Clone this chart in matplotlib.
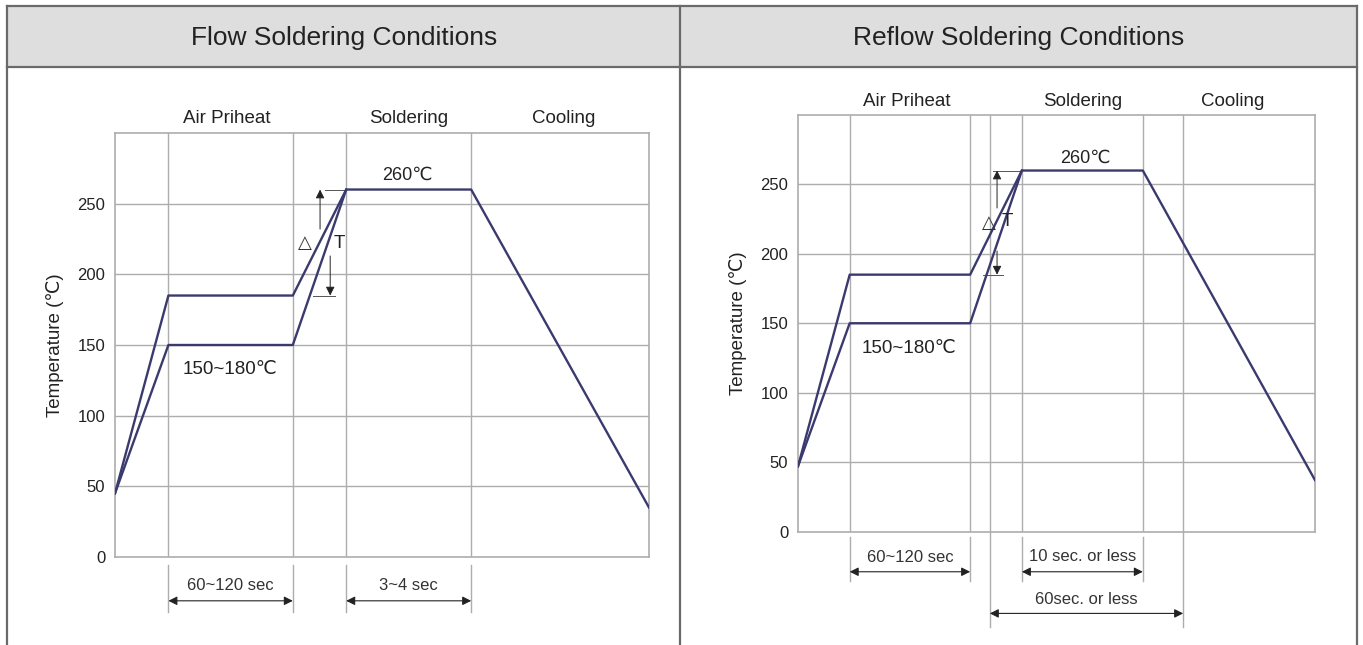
import matplotlib
matplotlib.use("Agg")
import matplotlib.pyplot as plt
from matplotlib.patches import Rectangle
from matplotlib.lines import Line2D

plt.rcParams['font.family'] = ['Liberation Sans', 'DejaVu Sans']

# ---- data (time axis in arbitrary units 0..100, temperature in degC) ----
flow_time_upper = [0, 10, 33.3, 43.3, 66.7, 100]
flow_temp_upper = [45, 185, 185, 260, 260, 35]
flow_time_lower = [0, 10, 33.3, 43.3]
flow_temp_lower = [45, 150, 150, 260]
flow_grid_x = [10, 33.3, 43.3, 66.7]

reflow_time_upper = [0, 10, 33.3, 43.3, 66.7, 100]
reflow_temp_upper = [47, 185, 185, 260, 260, 37]
reflow_time_lower = [0, 10, 33.3, 43.3]
reflow_temp_lower = [47, 150, 150, 260]
reflow_grid_x = [10, 33.3, 37.1, 43.3, 66.7, 74.5]

phases = ['Air Priheat', 'Soldering', 'Cooling']
phase_x = [21, 55, 84]
y_ticks = [0, 50, 100, 150, 200, 250]

CURVE = '#3a3a6e'
GRID = '#adadad'
DIM = '#555555'
TXT = '#222222'
W, H = 1363, 645


def px_rect(x0, y0, x1, y1):
    return [x0 / W, 1 - y1 / H, (x1 - x0) / W, (y1 - y0) / H]


def dim_arrow(ax, x0, x1, y, text, ty):
    ax.annotate('', xy=(x0, y), xytext=(x1, y), annotation_clip=False,
                arrowprops=dict(arrowstyle='<|-|>', color='#222222', lw=0.8,
                                mutation_scale=13, shrinkA=0, shrinkB=0))
    ax.text((x0 + x1) / 2, ty, text, ha='center', va='center', fontsize=12,
            color='#333333', clip_on=False)


def ext_line(ax, x, y0, y1):
    ax.plot([x, x], [y0, y1], color=GRID, lw=1, clip_on=False)


def v_arrow(ax, x, y0, y1):
    ax.annotate('', xy=(x, y1), xytext=(x, y0),
                arrowprops=dict(arrowstyle='-|>', color='#222222', lw=0.7,
                                mutation_scale=13, shrinkA=0, shrinkB=0))


def base_axes(rect, grid_x):
    ax = fig.add_axes(rect)
    ax.set_xlim(0, 100)
    ax.set_ylim(0, 300)
    ax.set_yticks(y_ticks)
    ax.set_xticks([])
    for gx in grid_x:
        ax.axvline(gx, color=GRID, lw=1, zorder=1)
    for gy in y_ticks[1:]:
        ax.axhline(gy, color=GRID, lw=1, zorder=1)
    for s in ax.spines.values():
        s.set_color(GRID)
        s.set_linewidth(1.2)
    ax.tick_params(axis='y', length=0, pad=7, labelsize=12, labelcolor=TXT)
    ax.set_ylabel('Temperature (\u2103)', fontsize=13.5, color=TXT, labelpad=10)
    for name, x in zip(phases, phase_x):
        ax.text(x, 310, name, ha='center', va='center', fontsize=13.5,
                color=TXT, clip_on=False)
    return ax


fig = plt.figure(figsize=(W / 100, H / 100), dpi=100)

# frame + header band
fig.patches.append(Rectangle((7 / W, 1 - 67 / H), 1350 / W, 61 / H,
                             transform=fig.transFigure, facecolor='#dedede',
                             edgecolor='none'))
for xs, ys in [([7, 1357], [6, 6]), ([7, 1357], [67, 67]), ([7, 7], [6, 645]),
               ([1357, 1357], [6, 645]), ([680, 680], [6, 645])]:
    fig.add_artist(Line2D([x / W for x in xs], [1 - y / H for y in ys],
                          color='#6a6a6a', lw=1.6))
fig.text(344 / W, 1 - 38 / H, 'Flow Soldering Conditions', ha='center',
         va='center', fontsize=19, color=TXT)
fig.text(1019 / W, 1 - 38 / H, 'Reflow Soldering Conditions', ha='center',
         va='center', fontsize=19, color=TXT)

# ---- flow soldering ----
ax1 = base_axes(px_rect(115, 133, 649, 557), flow_grid_x)
ax1.plot(flow_time_upper, flow_temp_upper, color=CURVE, lw=1.7, zorder=3)
ax1.plot(flow_time_lower, flow_temp_lower, color=CURVE, lw=1.7, zorder=3)
ax1.plot([39.3, 43.3], [260, 260], color=DIM, lw=0.7)
ax1.plot([37.1, 41.2], [185, 185], color=DIM, lw=0.7)
v_arrow(ax1, 38.4, 232, 260)
v_arrow(ax1, 40.3, 213, 185)
ax1.text(35.5, 222, '\u25b3', ha='center', va='center', fontsize=13, color='#333333',
         family=['DejaVu Sans'])
ax1.text(42.0, 222, 'T', ha='center', va='center', fontsize=13.5, color=TXT)
ax1.text(54.7, 270, '260\u2103', ha='center', va='center', fontsize=13, color=TXT)
ax1.text(21.5, 133, '150~180\u2103', ha='center', va='center', fontsize=13.5, color=TXT)
for x in [10, 33.3, 43.3, 66.7]:
    ext_line(ax1, x, -6, -39)
dim_arrow(ax1, 10, 33.3, -31, '60~120 sec', -20.5)
dim_arrow(ax1, 43.3, 66.7, -31, '3~4 sec', -20.5)

# ---- reflow soldering ----
ax2 = base_axes(px_rect(798, 115, 1315, 531.5), reflow_grid_x)
ax2.plot(reflow_time_upper, reflow_temp_upper, color=CURVE, lw=1.7, zorder=3)
ax2.plot(reflow_time_lower, reflow_temp_lower, color=CURVE, lw=1.7, zorder=3)
ax2.plot([37.7, 43.3], [260, 260], color=DIM, lw=0.7)
ax2.plot([35.8, 39.7], [185, 185], color=DIM, lw=0.7)
v_arrow(ax2, 38.5, 233, 260)
v_arrow(ax2, 38.5, 202, 185)
ax2.text(36.9, 222, '\u25b3', ha='center', va='center', fontsize=13, color='#333333',
         family=['DejaVu Sans'])
ax2.text(40.4, 223, 'T', ha='center', va='center', fontsize=13.5, color=TXT)
ax2.text(55.5, 269, '260\u2103', ha='center', va='center', fontsize=13, color=TXT)
ax2.text(21.5, 132, '150~180\u2103', ha='center', va='center', fontsize=13.5, color=TXT)
for x in [10, 33.3, 43.3, 66.7]:
    ext_line(ax2, x, -4, -36)
for x in [37.1, 74.5]:
    ext_line(ax2, x, 0, -69)
dim_arrow(ax2, 10, 33.3, -29, '60~120 sec', -19)
dim_arrow(ax2, 43.3, 66.7, -29, '10 sec. or less', -18)
dim_arrow(ax2, 37.1, 74.5, -59, '60sec. or less', -49)

fig.savefig('out.png', dpi=100)
